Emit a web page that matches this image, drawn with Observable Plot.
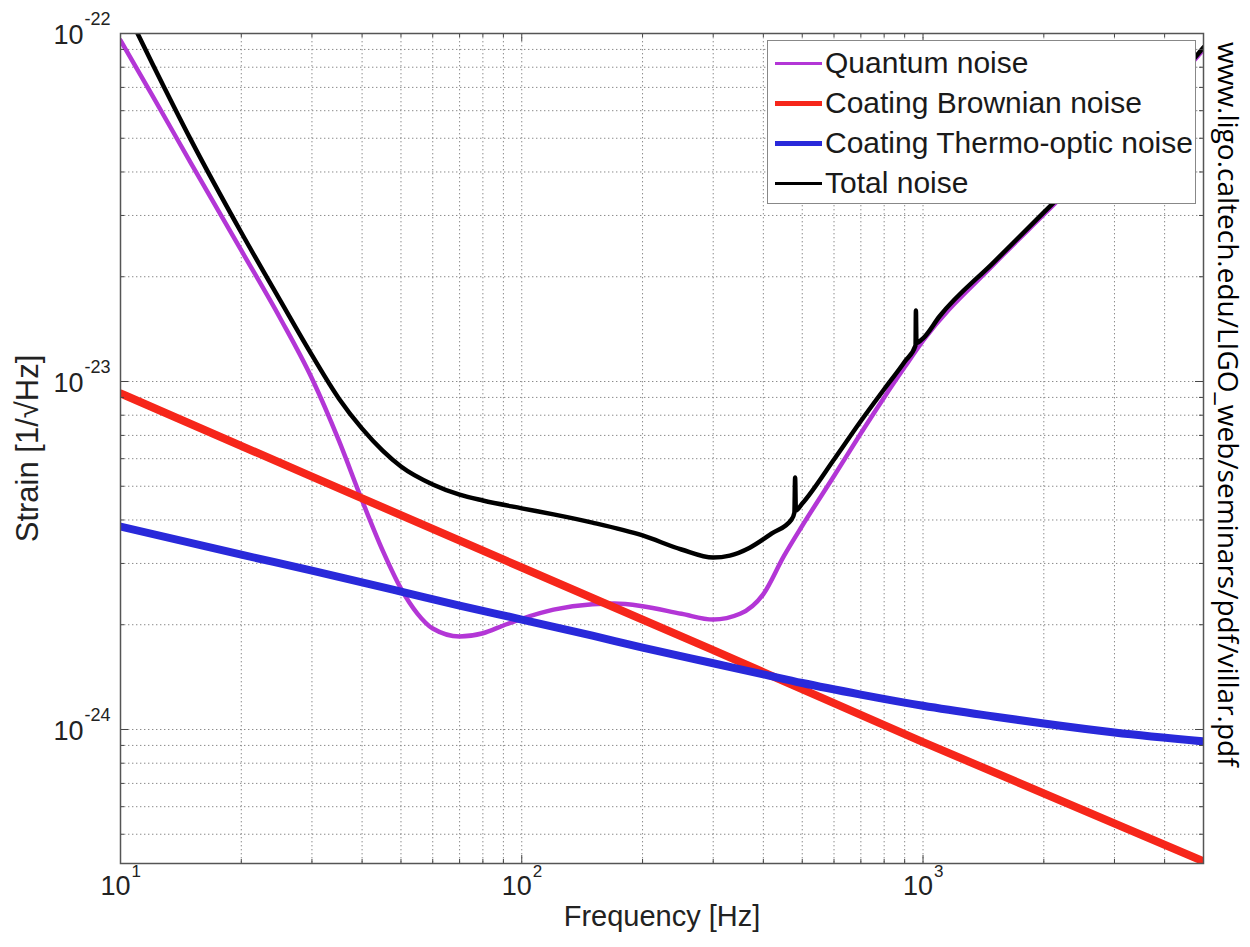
<!DOCTYPE html>
<html><head><meta charset="utf-8">
<script src="https://cdn.jsdelivr.net/npm/d3@7"></script>
<script src="https://cdn.jsdelivr.net/npm/@observablehq/plot@0.6"></script>
<style>
body{margin:0;background:#fff;}
#wrap{position:relative;width:1250px;height:947px;font-family:"Liberation Sans",Arial,sans-serif;}
#legend{position:absolute;left:767px;top:40px;width:429px;height:164px;background:#fff;border:1.5px solid #888;box-sizing:border-box;}
.row{position:absolute;left:0;height:40px;display:flex;align-items:center;font-size:30px;color:#1a1a1a;white-space:nowrap;}
.sw{display:inline-block;width:47px;margin-left:7px;margin-right:3px;}
#url{position:absolute;left:1215px;top:42px;writing-mode:vertical-rl;font-family:"Open Sans",sans-serif;font-size:28px;color:#000;white-space:nowrap;line-height:1;}
</style></head><body>
<div id="wrap"><div id="legend"></div><div id="url"></div></div>
<script>
// ---- data ----
const seriesNames = ["Quantum noise","Coating Brownian noise","Coating Thermo-optic noise","Total noise"];
const seriesColors = ["#b336d6","#f6261a","#2929da","#000000"];

const freqQ = [10,12,15,20,25,30,35,40,45,50,55,60,70,80,90,100,120,150,170,200,250,300,350,400,450,500,600,700,800,900,1000,1500,2000,3000,4000,5000];
const quantum = [9.55e-23,6.64e-23,4.23e-23,2.38e-23,1.52e-23,1.02e-23,6.77e-24,4.55e-24,3.27e-24,2.54e-24,2.15e-24,1.95e-24,1.85e-24,1.89e-24,1.99e-24,2.08e-24,2.21e-24,2.29e-24,2.30e-24,2.26e-24,2.15e-24,2.07e-24,2.15e-24,2.45e-24,3.15e-24,3.85e-24,5.35e-24,7.1e-24,9.0e-24,1.10e-23,1.31e-23,2.17e-23,3.02e-23,4.8e-23,6.7e-23,9.0e-23];

const freqR = [10,30,100,300,1000,5000];
const brownian = [9.24e-24,5.33e-24,2.92e-24,1.69e-24,9.2e-25,4.18e-25];

const freqB = [10,20,30,50,70,100,150,200,300,400,500,700,1000,1500,2000,3000,5000];
const thermo = [3.83e-24,3.18e-24,2.86e-24,2.49e-24,2.27e-24,2.07e-24,1.86e-24,1.72e-24,1.55e-24,1.44e-24,1.36e-24,1.26e-24,1.17e-24,1.09e-24,1.04e-24,9.8e-25,9.24e-25];

const freqT = [10,12,15,20,25,30,35,40,45,50,60,70,80,100,120,150,200,250,300,330,370,420,470,478,480,482,500,600,700,800,900,958,960,963,1000,1100,1500,2000,3000,4000,5000];
const total = [1.26e-22,8.2e-23,4.93e-23,2.68e-23,1.71e-23,1.19e-23,8.94e-24,7.32e-24,6.33e-24,5.7e-24,5.06e-24,4.73e-24,4.55e-24,4.32e-24,4.15e-24,3.93e-24,3.61e-24,3.29e-24,3.12e-24,3.16e-24,3.33e-24,3.66e-24,4.01e-24,4.2e-24,5.3e-24,4.26e-24,4.46e-24,5.97e-24,7.7e-24,9.5e-24,1.14e-23,1.27e-23,1.6e-23,1.29e-23,1.33e-23,1.54e-23,2.2e-23,3.06e-23,4.86e-23,6.77e-23,9.12e-23];

const xMajor = [10,100,1000];
const xExp = ["1","2","3"];
const xMinor = [20,30,40,50,60,70,80,90,200,300,400,500,600,700,800,900,2000,3000,4000,5000];
const yMajor = [1e-24,1e-23,1e-22];
const yExp = ["-24","-23","-22"];
const yMinor = [5e-25,6e-25,7e-25,8e-25,9e-25,2e-24,3e-24,4e-24,5e-24,6e-24,7e-24,8e-24,9e-24,2e-23,3e-23,4e-23,5e-23,6e-23,7e-23,8e-23,9e-23];
const xDomain = [10,5000];
const yDomain = [4.12e-25,1e-22];
const xLabel = "Frequency [Hz]";
const yLabel = "Strain [1/\u221AHz]";
const source = "www.ligo.caltech.edu/LIGO_web/seminars/pdf/villar.pdf";

// ---- layout ----
const W=1250,H=947,mL=120,mR=47,mT=33,mB=84;
const fh=H-mT-mB, fw=W-mL-mR;
const toRows=(fs,vs)=>fs.map((f,i)=>({f,v:vs[i]}));
const widths=[4.5,8,8,4.5];
const sets=[toRows(freqQ,quantum),toRows(freqR,brownian),toRows(freqB,thermo),toRows(freqT,total)];
const grid={stroke:"#8a8a8a",strokeDasharray:"1.4,2.6",strokeWidth:1};
const tickC="#444";

const chart = Plot.plot({
  width:W,height:H,marginLeft:mL,marginRight:mR,marginTop:mT,marginBottom:mB,
  style:{fontFamily:"'Liberation Sans',Arial,sans-serif",background:"#fff"},
  x:{type:"log",domain:xDomain,axis:null},
  y:{type:"log",domain:yDomain,axis:null},
  marks:[
    Plot.ruleX([...xMajor,...xMinor],{x:d=>d,...grid}),
    Plot.ruleY([...yMajor,...yMinor],{y:d=>d,...grid}),
    ...sets.map((s,i)=>Plot.line(s,{x:"f",y:"v",stroke:seriesColors[i],strokeWidth:widths[i],curve:"monotone-x",clip:true})),
    Plot.tickX(xMajor,{x:d=>d,insetTop:fh-8,stroke:tickC}),
    Plot.tickX(xMajor,{x:d=>d,insetBottom:fh-8,stroke:tickC}),
    Plot.tickX(xMinor,{x:d=>d,insetTop:fh-4,stroke:tickC}),
    Plot.tickX(xMinor,{x:d=>d,insetBottom:fh-4,stroke:tickC}),
    Plot.tickY(yMajor,{y:d=>d,insetRight:fw-8,stroke:tickC}),
    Plot.tickY(yMajor,{y:d=>d,insetLeft:fw-8,stroke:tickC}),
    Plot.tickY(yMinor,{y:d=>d,insetRight:fw-4,stroke:tickC}),
    Plot.tickY(yMinor,{y:d=>d,insetLeft:fw-4,stroke:tickC}),
    Plot.frame({stroke:"#555",strokeWidth:1.5}),
    Plot.text(xMajor,{x:d=>d,frameAnchor:"bottom",dy:31,dx:-5,text:()=>"10",fontSize:27,fill:"#222"}),
    Plot.text(xMajor,{x:d=>d,frameAnchor:"bottom",dy:13,dx:11,text:(d,i)=>xExp[i],textAnchor:"start",fontSize:17,fill:"#222"}),
    Plot.text(yMajor,{y:d=>d,frameAnchor:"left",dx:-37,dy:2,text:()=>"10",textAnchor:"end",fontSize:27,fill:"#222"}),
    Plot.text(yMajor,{y:d=>d,frameAnchor:"left",dx:-36,dy:-14,text:(d,i)=>yExp[i],textAnchor:"start",fontSize:18,fill:"#222"}),
    Plot.text([xLabel],{frameAnchor:"bottom",dy:62,text:d=>d,fontSize:29,fill:"#222"}),
    Plot.text([yLabel],{frameAnchor:"left",dx:-92,text:d=>d,rotate:-90,textAnchor:"middle",fontSize:31,fill:"#222"})
  ]
});
const wrap=document.getElementById("wrap");
wrap.prepend(chart);

// legend
const lg=document.getElementById("legend");
const swH=[3,5,5,3];
seriesNames.forEach((n,i)=>{
  const r=document.createElement("div");
  r.className="row"; r.style.top=(2+40*i)+"px";
  const s=document.createElement("span"); s.className="sw";
  s.style.height=swH[i]+"px"; s.style.background=seriesColors[i];
  const t=document.createElement("span"); t.textContent=n;
  r.append(s,t); lg.append(r);
});
document.getElementById("url").textContent=source;
</script></body></html>
